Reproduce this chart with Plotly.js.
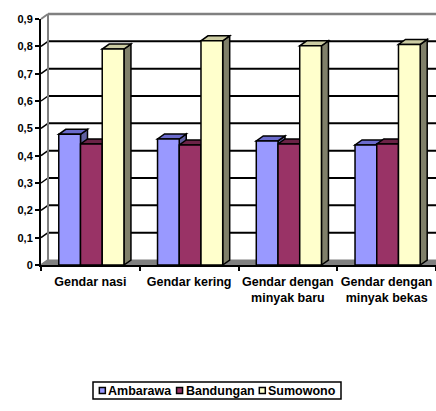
<!DOCTYPE html>
<html>
<head>
<meta charset="utf-8">
<script src="https://cdn.plot.ly/plotly-3.0.1.min.js"></script>
<style>
html,body{margin:0;padding:0;background:#fff;overflow:hidden;}
#chart{width:436px;height:411px;}
</style>
</head>
<body>
<div id="chart"></div>
<script>
// ---- data ----
const categories = ['Gendar nasi', 'Gendar kering', 'Gendar dengan<br>minyak baru', 'Gendar dengan<br>minyak bekas'];
const seriesNames = ['Ambarawa', 'Bandungan', 'Sumowono'];
const ambarawa  = [0.478, 0.461, 0.454, 0.439];
const bandungan = [0.443, 0.439, 0.443, 0.443];
const sumowono  = [0.790, 0.820, 0.802, 0.807];
const yTickVals = [0, 0.1, 0.2, 0.3, 0.4, 0.5, 0.6, 0.7, 0.8, 0.9];
const yTickText = ['0', '0,1', '0,2', '0,3', '0,4', '0,5', '0,6', '0,7', '0,8', '0,9'];

// ---- styling ----
const W = 436, H = 411;
const M = {l: 41, r: 0, t: 19, b: 146};
const PW = W - M.l - M.r, PH = H - M.t - M.b;
const YMAX = 0.9;
const XR = [-0.5, 3.5];
const DX = 7, DY = 5;          // 3D depth offset in px
const front = ['#9999FF', '#993366', '#FFFFCC'];
const topC  = ['#6B6BCC', '#6B2347', '#CCCCA3'];
const sideC = ['#5F5F9F', '#5C1F3D', '#80806A'];
const offsets = [-0.32, -0.10, 0.12];
const barW = 0.22;
const values = [ambarawa, bandungan, sumowono];
const font = 'Liberation Sans, Arial, sans-serif';
const legendFontSize = 12.5;

const pxPerX = PW / (XR[1] - XR[0]);
const pxPerY = PH / YMAX;
const xp = px => (px - M.l) / PW;          // page px -> paper x
const yp = py => (M.t + PH - py) / PH;     // page py -> paper y

const shapes = [];
// floor
shapes.push({type: 'path', xref: 'paper', yref: 'paper', layer: 'below',
  path: `M0,0 L1,0 L${1 + DX / PW},${DY / PH} L${DX / PW},${DY / PH} Z`,
  fillcolor: '#808080', line: {color: '#808080', width: 1}});
// grid lines (back wall + left wall)
yTickVals.forEach(v => {
  if (v === 0 || v === YMAX) return;
  const y = v / YMAX;
  shapes.push({type: 'line', xref: 'paper', yref: 'paper', layer: 'below',
    x0: DX / PW, x1: 1.05, y0: y + DY / PH, y1: y + DY / PH, line: {color: '#000', width: 2}});
  shapes.push({type: 'line', xref: 'paper', yref: 'paper', layer: 'below',
    x0: 0, x1: DX / PW, y0: y, y1: y + DY / PH, line: {color: '#000', width: 1.5}});
});
// wall frame (gray)
shapes.push({type: 'line', xref: 'paper', yref: 'paper', layer: 'below',
  x0: DX / PW, x1: DX / PW, y0: DY / PH, y1: 1 + DY / PH, line: {color: '#808080', width: 2}});
shapes.push({type: 'line', xref: 'paper', yref: 'paper', layer: 'below',
  x0: DX / PW, x1: 1.05, y0: 1 + DY / PH, y1: 1 + DY / PH, line: {color: '#808080', width: 2.5}});
shapes.push({type: 'line', xref: 'paper', yref: 'paper', layer: 'below',
  x0: 0, x1: DX / PW, y0: 1, y1: 1 + DY / PH, line: {color: '#808080', width: 2}});
shapes.push({type: 'line', xref: 'paper', yref: 'paper', layer: 'below',
  x0: 0, x1: DX / PW, y0: 0, y1: DY / PH, line: {color: '#808080', width: 2}});

// 3D bar faces (side and top), anchored at each bar's top-right corner
const bwPx = barW * pxPerX;
for (let i = 0; i < categories.length; i++) {
  for (let j = 0; j < values.length; j++) {
    const v = values[j][i];
    const hx = v * pxPerY;
    const common = {type: 'path', xref: 'x', yref: 'y', layer: 'below',
      xsizemode: 'pixel', ysizemode: 'pixel',
      xanchor: i + offsets[j] + barW, yanchor: v};
    shapes.push(Object.assign({}, common, {
      path: `M0,0 L${DX},${DY} L${DX},${DY - hx} L0,${-hx} Z`,
      fillcolor: sideC[j], line: {color: '#000', width: 1.5}}));
    shapes.push(Object.assign({}, common, {
      path: `M${-bwPx},0 L0,0 L${DX},${DY} L${DX - bwPx},${DY} Z`,
      fillcolor: topC[j], line: {color: '#000', width: 1.5}}));
  }
}

// custom legend (Excel style)
const LG = {x0: 93, x1: 341, y0: 382, y1: 399};
shapes.push({type: 'rect', xref: 'paper', yref: 'paper', layer: 'above',
  x0: xp(LG.x0), x1: xp(LG.x1), y0: yp(LG.y1), y1: yp(LG.y0),
  fillcolor: '#fff', line: {color: '#000', width: 1.5}});
const ctx = document.createElement('canvas').getContext('2d');
ctx.font = `bold ${legendFontSize}px "Liberation Sans", Arial, sans-serif`;
const widths = seriesNames.map(n => ctx.measureText(n).width);
const SW = 6, SG = 2, IG = 6;
const total = widths.reduce((a, w) => a + SW + SG + w, 0) + IG * (seriesNames.length - 1);
let cx = (LG.x0 + LG.x1) / 2 - total / 2;
const cy = (LG.y0 + LG.y1) / 2;
const annotations = [];
seriesNames.forEach((n, j) => {
  shapes.push({type: 'rect', xref: 'paper', yref: 'paper', layer: 'above',
    x0: xp(cx), x1: xp(cx + SW), y0: yp(cy + 3), y1: yp(cy - 3),
    fillcolor: front[j], line: {color: '#000', width: 1.5}});
  annotations.push({xref: 'paper', yref: 'paper', x: xp(cx + SW + SG), y: yp(cy),
    xanchor: 'left', yanchor: 'middle', showarrow: false, text: n, borderpad: 0,
    font: {family: font, size: legendFontSize, weight: 'bold', color: '#000'}});
  cx += SW + SG + widths[j] + IG;
});

const traces = values.map((vals, j) => ({
  type: 'bar', name: seriesNames[j], x: categories, y: vals,
  offset: offsets[j], width: barW,
  marker: {color: front[j], line: {color: '#000', width: 1.5}},
  hoverinfo: 'skip', cliponaxis: false
}));

const layout = {
  width: W, height: H, margin: M,
  paper_bgcolor: '#fff', plot_bgcolor: 'rgba(0,0,0,0)',
  showlegend: false, barmode: 'overlay',
  font: {family: font, color: '#000'},
  xaxis: {type: 'category', range: XR, showgrid: false, zeroline: false,
    showline: true, linecolor: '#000', linewidth: 2,
    ticks: 'outside', tickson: 'boundaries', ticklen: 4, tickwidth: 2, tickcolor: '#000',
    ticklabelstandoff: 4, tickangle: 0,
    tickfont: {family: font, size: 12.5, weight: 'bold', color: '#000'}},
  yaxis: {range: [0, YMAX], showgrid: false, zeroline: false,
    showline: true, linecolor: '#000', linewidth: 2,
    ticks: 'outside', ticklen: 4, tickwidth: 2, tickcolor: '#000',
    tickvals: yTickVals, ticktext: yTickText,
    tickfont: {family: font, size: 11, weight: 'bold', color: '#000'}},
  shapes: shapes, annotations: annotations
};

Plotly.newPlot('chart', traces, layout, {staticPlot: true, displayModeBar: false});
</script>
</body>
</html>
